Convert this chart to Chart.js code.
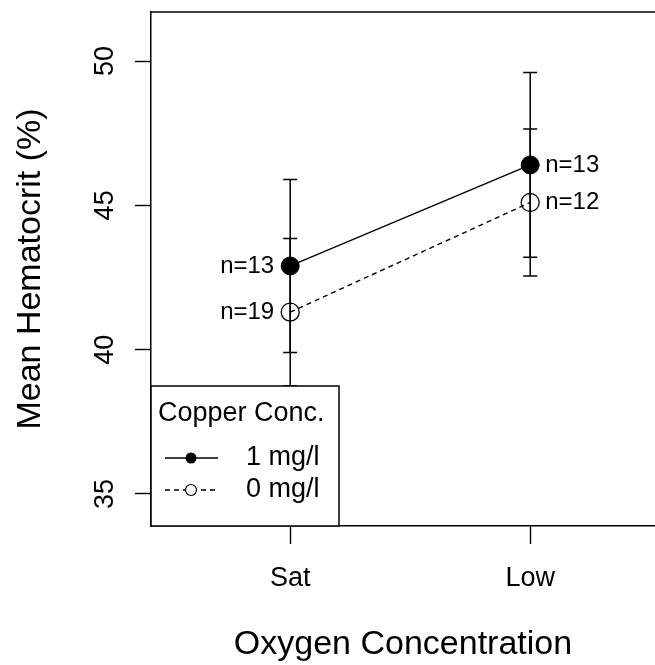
<!DOCTYPE html>
<html>
<head>
<meta charset="utf-8">
<script src="https://cdn.jsdelivr.net/npm/chart.js@4.4.0/dist/chart.umd.min.js"></script>
<style>
  html, body { margin: 0; padding: 0; background: #fff; }
</style>
</head>
<body>
<canvas id="chart" width="655" height="665"></canvas>
<script>
// data
var categories = ['Sat', 'Low'];
var seriesNames = ['1 mg/l', '0 mg/l'];
var means1 = [42.9, 46.4];
var means0 = [41.3, 45.1];
var err1 = [3.0, 3.2];
var err0 = [2.55, 2.55];
var n1 = [13, 13];
var n0 = [19, 12];
var yTicks = [35, 40, 45, 50];

var FONT = "'Liberation Sans', Arial, sans-serif";
Chart.defaults.font.family = FONT;
Chart.defaults.color = '#000';

function points(vals) {
    return vals.map(function(v, i) { return {x: i + 1, y: v}; });
}

// vertical error bars with caps, under the lines
var errorBars = {
    id: 'errorBars',
    beforeDatasetsDraw: function(chart) {
        var ctx = chart.ctx, xs = chart.scales.x, ys = chart.scales.y;
        ctx.save();
        ctx.strokeStyle = '#000';
        ctx.lineWidth = 1.5;
        chart.data.datasets.forEach(function(ds) {
            ds.data.forEach(function(p, i) {
                var x = xs.getPixelForValue(p.x);
                var top = ys.getPixelForValue(p.y + ds.errors[i]);
                var bot = ys.getPixelForValue(p.y - ds.errors[i]);
                ctx.beginPath();
                ctx.moveTo(x, top); ctx.lineTo(x, bot);
                ctx.moveTo(x - 7, top); ctx.lineTo(x + 7, top);
                ctx.moveTo(x - 7, bot); ctx.lineTo(x + 7, bot);
                ctx.stroke();
            });
        });
        ctx.restore();
    }
};

// n= labels, frame, rotated y tick labels and the boxed legend
var extras = {
    id: 'extras',
    afterDatasetsDraw: function(chart) {
        var ctx = chart.ctx, xs = chart.scales.x, ys = chart.scales.y, area = chart.chartArea;
        ctx.save();
        ctx.fillStyle = '#000';
        ctx.font = '24px ' + FONT;
        ctx.textBaseline = 'middle';
        chart.data.datasets.forEach(function(ds) {
            ds.data.forEach(function(p, i) {
                var x = xs.getPixelForValue(p.x);
                var y = ys.getPixelForValue(p.y);
                if (i === 0) {
                    ctx.textAlign = 'right';
                    ctx.fillText('n=' + ds.counts[i], x - 16, y);
                } else {
                    ctx.textAlign = 'left';
                    ctx.fillText('n=' + ds.counts[i], x + 15, y);
                }
            });
        });

        // top edge of the box (right edge is cut off in the original)
        ctx.strokeStyle = '#000';
        ctx.lineWidth = 1.5;
        ctx.beginPath();
        ctx.moveTo(area.left, area.top);
        ctx.lineTo(area.right, area.top);
        ctx.stroke();

        // y tick labels, rotated like R's las=0
        ctx.font = '27px ' + FONT;
        ctx.textAlign = 'center';
        ys.ticks.forEach(function(t) {
            var y = ys.getPixelForValue(t.value);
            ctx.save();
            ctx.translate(106, y);
            ctx.rotate(-Math.PI / 2);
            ctx.fillText(String(t.value), 0, 0);
            ctx.restore();
        });

        // legend
        var lx = area.left, ly = 386, lw = 188, lh = area.bottom - 386;
        ctx.fillStyle = '#fff';
        ctx.fillRect(lx, ly, lw, lh);
        ctx.strokeRect(lx, ly, lw, lh);
        ctx.fillStyle = '#000';
        ctx.textAlign = 'left';
        ctx.fillText('Copper Conc.', lx + 7, ly + 28);
        var rows = [ly + 72, ly + 104];
        chart.data.datasets.forEach(function(ds, k) {
            var ry = rows[k];
            ctx.save();
            ctx.lineWidth = 1.5;
            ctx.setLineDash(ds.borderDash || []);
            ctx.beginPath();
            ctx.moveTo(lx + 14, ry); ctx.lineTo(lx + 67, ry);
            ctx.stroke();
            ctx.restore();
            ctx.beginPath();
            ctx.arc(lx + 40, ry, 5.5, 0, Math.PI * 2);
            if (k === 0) { ctx.fill(); } else { ctx.fillStyle = '#fff'; ctx.fill(); ctx.fillStyle = '#000'; ctx.lineWidth = 1.2; ctx.stroke(); }
            ctx.fillText(ds.label, lx + 95, ry);
        });
        ctx.restore();
    }
};

new Chart(document.getElementById('chart'), {
    type: 'line',
    data: {
        datasets: [{
            label: seriesNames[0],
            data: points(means1),
            errors: err1,
            counts: n1,
            borderColor: '#000',
            borderWidth: 1.4,
            pointRadius: 9,
            pointBackgroundColor: '#000',
            pointBorderColor: '#000',
            pointBorderWidth: 1
        }, {
            label: seriesNames[1],
            data: points(means0),
            errors: err0,
            counts: n0,
            borderColor: '#000',
            borderWidth: 1.4,
            borderDash: [5, 4],
            pointRadius: 9,
            pointBackgroundColor: 'rgba(0,0,0,0)',
            pointBorderColor: '#000',
            pointBorderWidth: 1.3
        }]
    },
    options: {
        responsive: false,
        animation: false,
        events: [],
        layout: { autoPadding: false, padding: { top: 12, left: 0, right: 0, bottom: 0 } },
        plugins: { legend: { display: false }, tooltip: { enabled: false } },
        scales: {
            x: {
                type: 'linear',
                min: 0.42,
                max: 2.52,
                afterBuildTicks: function(s) {
                    s.ticks = categories.map(function(c, i) { return {value: i + 1}; });
                },
                afterFit: function(s) {
                    s.height = 139;
                    s.paddingLeft = 0;
                    s.paddingRight = 0;
                },
                grid: { drawOnChartArea: false, drawTicks: true, tickLength: 18, tickColor: '#000', tickWidth: 1.4 },
                border: { display: true, color: '#000', width: 1.5 },
                ticks: {
                    callback: function(v) { return categories[v - 1]; },
                    font: { size: 27 },
                    color: '#000',
                    padding: 18,
                    maxRotation: 0,
                    autoSkip: false
                },
                title: {
                    display: true,
                    text: 'Oxygen Concentration',
                    font: { size: 34 },
                    color: '#000',
                    padding: { top: 0, bottom: 0 }
                }
            },
            y: {
                min: 33.89,
                max: 51.70,
                afterBuildTicks: function(s) {
                    s.ticks = yTicks.map(function(v) { return {value: v}; });
                },
                afterFit: function(s) {
                    s.width = 151;
                    s.paddingTop = 0;
                    s.paddingBottom = 0;
                },
                grid: { drawOnChartArea: false, drawTicks: true, tickLength: 16, tickColor: '#000', tickWidth: 1.4 },
                border: { display: true, color: '#000', width: 1.5 },
                ticks: { display: false },
                title: {
                    display: true,
                    text: 'Mean Hematocrit (%)',
                    font: { size: 34 },
                    color: '#000',
                    padding: { top: 10, bottom: 0 }
                }
            }
        }
    },
    plugins: [errorBars, extras]
});
</script>
</body>
</html>
